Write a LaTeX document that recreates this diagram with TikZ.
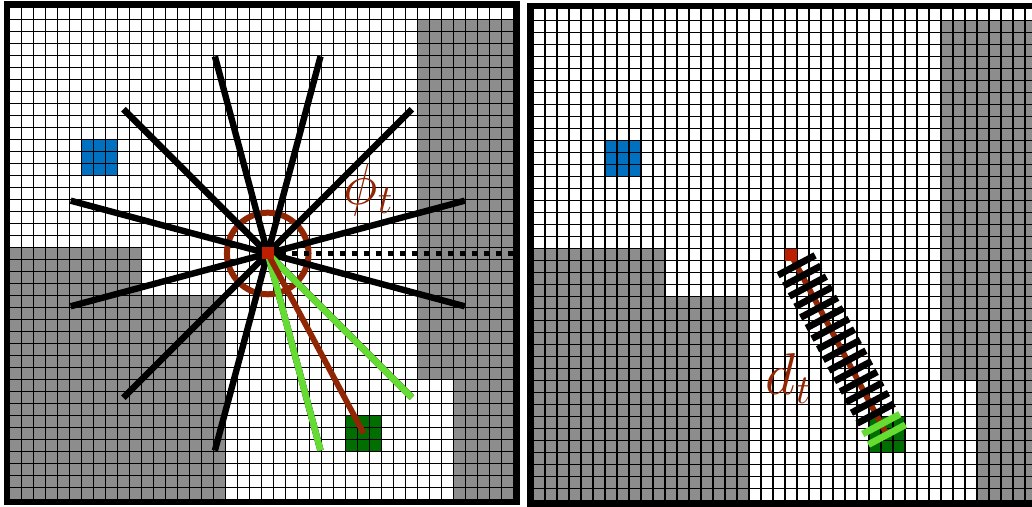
\RequirePackage{fix-cm}
\documentclass[tikz,border=0pt]{standalone}
\usetikzlibrary{calc}
\definecolor{wallgray}{RGB}{141,141,141}
\definecolor{keyblue}{RGB}{0,112,192}
\definecolor{goalgreen}{RGB}{0,110,0}
\definecolor{raygreen}{RGB}{100,220,50}
\definecolor{agentred}{RGB}{190,30,0}
\definecolor{rust}{RGB}{145,38,5}
\newcommand{\gridmap}{%
  \fill[wallgray] (0,0) rectangle (11,21) (0,0) rectangle (18,17) (34,10) rectangle (42,40) (37,0) rectangle (42,10);
  \fill[keyblue] (6,27) rectangle (9,30);
  \fill[goalgreen] (28,4) rectangle (31,7);
  \draw[line width=1pt, step=1] (0,0) grid (42,41);
  \draw[line width=0.15cm] (-0.25,-0.25) rectangle (42.25,41.25);
}
\begin{document}
\begin{tikzpicture}[x=0.3cm, y=0.3cm,
  ray/.style={line width=0.16cm},
  trace/.style={line width=0.145cm, rust},
  ring/.style={line width=0.15cm, rust},
  dotline/.style={line width=0.13cm, dash pattern=on 0.13cm off 0.17cm},
  tickmark/.style={line width=0.17cm},
  lbl/.style={text=rust, font=\fontsize{42}{44}\selectfont, inner sep=0pt}]
\useasboundingbox (-0.81,-0.625) rectangle (85.19,41.625);
\clip (-0.81,-0.625) rectangle (85.19,41.625);
\fill[white] (-0.81,-0.625) rectangle (85.19,41.625);
\begin{scope}
  \gridmap
  \coordinate (agentL) at (21.5,20.5);
  \coordinate (goalL) at (29.5,5.5);
  \coordinate (edgeL) at (42,20.5);
  \draw[ring] (agentL) circle (3.4);
  \draw[dotline] (agentL) -- (edgeL);
  \foreach \a in {15,45,...,345} \draw[ray] (agentL) -- ++(\a:17);
  \foreach \a in {285,315} \draw[ray, raygreen] (agentL) -- ++(\a:17);
  \draw[trace] (agentL) -- (goalL);
  \fill[agentred] (21,20) rectangle (22,21);
  \node[lbl] (phi) at (29.9,25.8) {$\phi_t$};
\end{scope}
\begin{scope}[shift={(43.6,-0.1)}]
  \gridmap
  \coordinate (agentR) at (21.5,20.5);
  \coordinate (goalR) at (29.5,5.5);
  \draw[trace] (agentR) -- (goalR);
  \foreach \k in {1,...,17}{
    \ifnum\k>15 \def\tickcol{raygreen}\else \def\tickcol{black}\fi
    \coordinate (s\k) at ($(agentR)!\k/17!(goalR)$);
    \draw[tickmark, \tickcol] (s\k) ++(-1.544,-0.824) -- ++(3.088,1.647);
  }
  \fill[agentred] (21,20) rectangle (22,21);
  \node[lbl] (dist) at (21.3,10.2) {$d_t$};
\end{scope}
\end{tikzpicture}
\end{document}
